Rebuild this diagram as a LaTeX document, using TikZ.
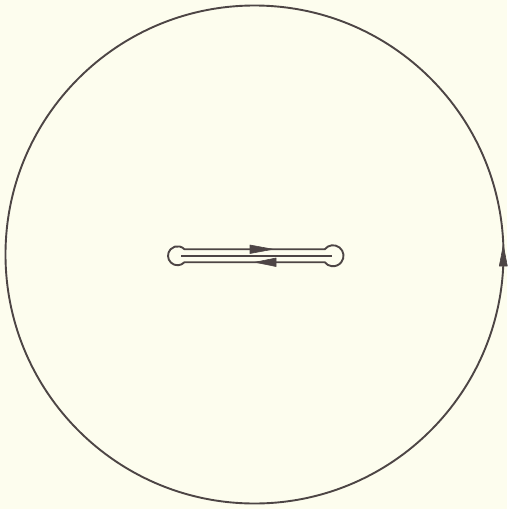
\documentclass[tikz,border=0pt]{standalone}
\usetikzlibrary{calc}
\begin{document}
\begin{tikzpicture}[x=1pt,y=-1pt,
  ink/.style={draw=inkc,line width=1.9pt},
  headfill/.style={fill=inkc,draw=inkc,line width=0.6pt,line join=round}]
\definecolor{inkc}{HTML}{4D4545}
\definecolor{paper}{HTML}{FDFDEE}
\fill[paper] (0,0) rectangle (507,509);
\useasboundingbox (0,0) rectangle (507,509);
% outer circle
\coordinate (O) at (254.5,254.5);
\draw[ink] (O) circle[radius=249];
% arrowhead on outer circle (pointing up, counterclockwise)
\fill[headfill] (503.3,245) -- (499.3,266) -- (507.3,266) -- cycle;
% keyhole contour
\coordinate (L) at (177.5,255.75);
\coordinate (R) at (333,255.75);
\draw[ink,line join=round]
  ($(L)+(6.93,-6.5)$) coordinate (lt)
  -- ($(R)+(-8.25,-6.5)$) coordinate (rt)
  arc[start angle=-141.8,end angle=141.8,radius=10.5]
  -- ($(L)+(6.93,6.5)$) coordinate (lb)
  arc[start angle=43.2,end angle=316.8,radius=9.5]
  -- cycle;
% middle line
\coordinate (m1) at (181,255.75);
\coordinate (m2) at (332,255.75);
\draw[ink] (m1) -- (m2);
% arrowheads on slot
\fill[headfill] (273,249.25) -- (250,245) -- (250,253.5) -- cycle;
\fill[headfill] (255,262.25) -- (276,258) -- (276,266.5) -- cycle;
\end{tikzpicture}
\end{document}
